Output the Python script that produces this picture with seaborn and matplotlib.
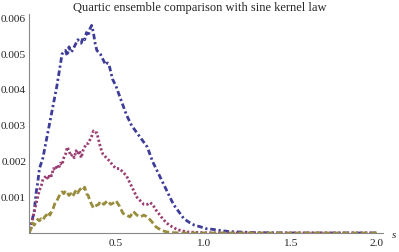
import numpy as np
import pandas as pd
import seaborn as sns
import matplotlib
matplotlib.use("Agg")
import matplotlib.pyplot as plt
from matplotlib.ticker import MultipleLocator, FixedLocator, FixedFormatter

# ==========================================
# DATA
# ==========================================
TITLE = "Quartic ensemble comparison with sine kernel law"

blue_s = [0, 0.01, 0.02, 0.03, 0.04, 0.05, 0.06, 0.08, 0.10, 0.12, 0.14, 0.16, 0.18,
          0.19, 0.20, 0.21, 0.22, 0.23, 0.24, 0.25, 0.27, 0.28, 0.29, 0.30, 0.31, 0.32,
          0.33, 0.34, 0.35, 0.36, 0.37, 0.38, 0.39, 0.41, 0.43, 0.44, 0.45, 0.46, 0.48,
          0.50, 0.53, 0.56, 0.59, 0.62, 0.65, 0.68, 0.71, 0.74, 0.77, 0.80, 0.83, 0.86,
          0.89, 0.92, 0.95, 0.98, 1.02, 1.06, 1.10, 1.15, 1.20, 1.30, 1.40, 1.50, 1.60,
          1.70, 1.80, 1.90, 2.00]
blue_y = [0, 0.0002, 0.0004, 0.0006, 0.0011, 0.0014, 0.0018, 0.0021, 0.0026, 0.0031,
          0.0036, 0.0041, 0.0047, 0.0050, 0.00505, 0.0051, 0.00495, 0.0052, 0.00505,
          0.0051, 0.0053, 0.0054, 0.00535, 0.0053, 0.00545, 0.0054, 0.0056, 0.0055,
          0.0057, 0.0058, 0.0056, 0.0053, 0.0051, 0.0050, 0.0048, 0.0047, 0.00475,
          0.0047, 0.0043, 0.0041, 0.0037, 0.0033, 0.0030, 0.0028, 0.0026, 0.0024,
          0.0020, 0.0017, 0.0014, 0.0011, 0.0008, 0.0006, 0.0004, 0.0003, 0.00022,
          0.00018, 0.00012, 0.0001, 0.00007, 0.00004, 0.00003, 0.00001, 0.000005,
          0, 0, 0, 0, 0, 0]

purple_s = [0, 0.01, 0.02, 0.03, 0.04, 0.05, 0.06, 0.07, 0.08, 0.09, 0.10, 0.11, 0.12,
            0.13, 0.14, 0.15, 0.16, 0.17, 0.18, 0.19, 0.20, 0.21, 0.22, 0.23, 0.24,
            0.25, 0.26, 0.27, 0.28, 0.29, 0.30, 0.31, 0.32, 0.33, 0.34, 0.35, 0.36,
            0.37, 0.38, 0.39, 0.40, 0.41, 0.425, 0.445, 0.465, 0.48, 0.50, 0.52, 0.54,
            0.56, 0.58, 0.60, 0.62, 0.64, 0.66, 0.68, 0.695, 0.71, 0.73, 0.76, 0.79,
            0.82, 0.85, 0.88, 0.91, 0.95, 1.00, 1.05, 1.10, 1.20, 1.40, 1.60, 1.80, 2.00]
purple_y = [0, 0.0001, 0.00036, 0.0006, 0.0008, 0.001, 0.0012, 0.0013, 0.0015,
            0.00155, 0.0016, 0.0015, 0.00165, 0.0016, 0.0018, 0.00175, 0.0019,
            0.0018, 0.00195, 0.0019, 0.0021, 0.0022, 0.0024, 0.0023, 0.00215,
            0.0022, 0.0021, 0.0023, 0.0022, 0.0023, 0.0021, 0.0023, 0.0024, 0.0025,
            0.0025, 0.0026, 0.0027, 0.00285, 0.0028, 0.0028, 0.0026, 0.0024, 0.0022,
            0.0021, 0.0020, 0.0019, 0.0018, 0.0018, 0.0017, 0.0016, 0.0014, 0.0012,
            0.001, 0.0009, 0.0008, 0.0008, 0.00085, 0.0008, 0.00064, 0.00045,
            0.00028, 0.00018, 0.0001, 0.00006, 0.00003, 0.00002, 0.00001, 0.000005,
            0, 0, 0, 0, 0, 0]

gold_s = [0, 0.01, 0.02, 0.03, 0.04, 0.05, 0.06, 0.07, 0.08, 0.09, 0.10, 0.11, 0.12,
          0.13, 0.14, 0.15, 0.16, 0.17, 0.18, 0.19, 0.20, 0.21, 0.22, 0.23, 0.24, 0.25,
          0.26, 0.27, 0.28, 0.29, 0.30, 0.31, 0.32, 0.33, 0.34, 0.35, 0.36, 0.37, 0.38,
          0.40, 0.41, 0.43, 0.45, 0.47, 0.49, 0.50, 0.52, 0.54, 0.56, 0.58, 0.60, 0.62,
          0.64, 0.66, 0.68, 0.70, 0.73, 0.76, 0.79, 0.83, 0.88, 0.95, 1.00, 1.20, 1.40,
          1.60, 1.80, 2.00]
gold_y = [0, 0.0001, 0.00028, 0.00022, 0.0003, 0.00038, 0.00034, 0.0004, 0.00036,
          0.00045, 0.0005, 0.00058, 0.0005, 0.0006, 0.0007, 0.00085, 0.0009, 0.0010,
          0.0011, 0.00115, 0.0011, 0.00118, 0.00112, 0.00105, 0.0011, 0.00102,
          0.0011, 0.0012, 0.00112, 0.0012, 0.00125, 0.0012, 0.00128, 0.0011, 0.00105,
          0.0009, 0.0008, 0.0007, 0.00075, 0.0008, 0.00088, 0.0008, 0.0009, 0.0008,
          0.00085, 0.0009, 0.00075, 0.00055, 0.0005, 0.00045, 0.0006, 0.0005,
          0.00045, 0.0005, 0.00045, 0.00035, 0.00017, 0.00008, 0.00003, 0.00001,
          0, 0, 0, 0, 0, 0, 0, 0]

x_ticks = [0.5, 1.0, 1.5, 2.0]
x_labels = ["0.5", "1.0", "1.5", "2.0"]
y_ticks = [0.001, 0.002, 0.003, 0.004, 0.005, 0.006]
y_labels = ["0.001", "0.002", "0.003", "0.004", "0.005", "0.006"]

COLORS = ["#3d3d99", "#993d71", "#998c3d"]

# ==========================================
# PLOT
# ==========================================
sns.set_style("white")
plt.rcParams["font.family"] = ["Liberation Serif", "DejaVu Serif"]

W, H = 399, 252
fig = plt.figure(figsize=(W / 100, H / 100), dpi=100)
ax = fig.add_axes([29 / W, (H - 233) / H, (383 - 29) / W, (233 - 14) / H])

sns.lineplot(x=blue_s, y=blue_y, ax=ax, color=COLORS[0], lw=2.0,
             linestyle=(0, (2.0, 1.0, 0.8, 1.0)))
sns.lineplot(x=purple_s, y=purple_y, ax=ax, color=COLORS[1], lw=2.0,
             linestyle=(0, (0.8, 0.8)))
sns.lineplot(x=gold_s, y=gold_y, ax=ax, color=COLORS[2], lw=2.0,
             linestyle=(0, (2.3, 1.1)))

ax.set_xlim(0, 354 / 174)
ax.set_ylim(0, 219 / 35.8 / 1000)

for side in ["top", "right"]:
    ax.spines[side].set_visible(False)
for side in ["left", "bottom"]:
    ax.spines[side].set_color("#888888")
    ax.spines[side].set_linewidth(0.8)

ax.xaxis.set_major_locator(FixedLocator(x_ticks))
ax.xaxis.set_major_formatter(FixedFormatter(x_labels))
ax.yaxis.set_major_locator(FixedLocator(y_ticks))
ax.yaxis.set_major_formatter(FixedFormatter(y_labels))
ax.xaxis.set_minor_locator(MultipleLocator(0.1))
ax.yaxis.set_minor_locator(MultipleLocator(0.0002))

ax.tick_params(which="major", direction="in", length=4, width=0.7, color="#888888",
               labelsize=8.2, pad=2)
ax.tick_params(which="minor", direction="in", length=2, width=0.6, color="#888888")
ax.tick_params(axis="x", pad=4)

fig.text(0.5, 1 - 2 / H, TITLE, ha="center", va="top", fontsize=9)
fig.text(392 / W, 1 - 236 / H, "s", ha="left", va="center", fontsize=8,
         style="italic")

fig.savefig("out.png", dpi=100)
